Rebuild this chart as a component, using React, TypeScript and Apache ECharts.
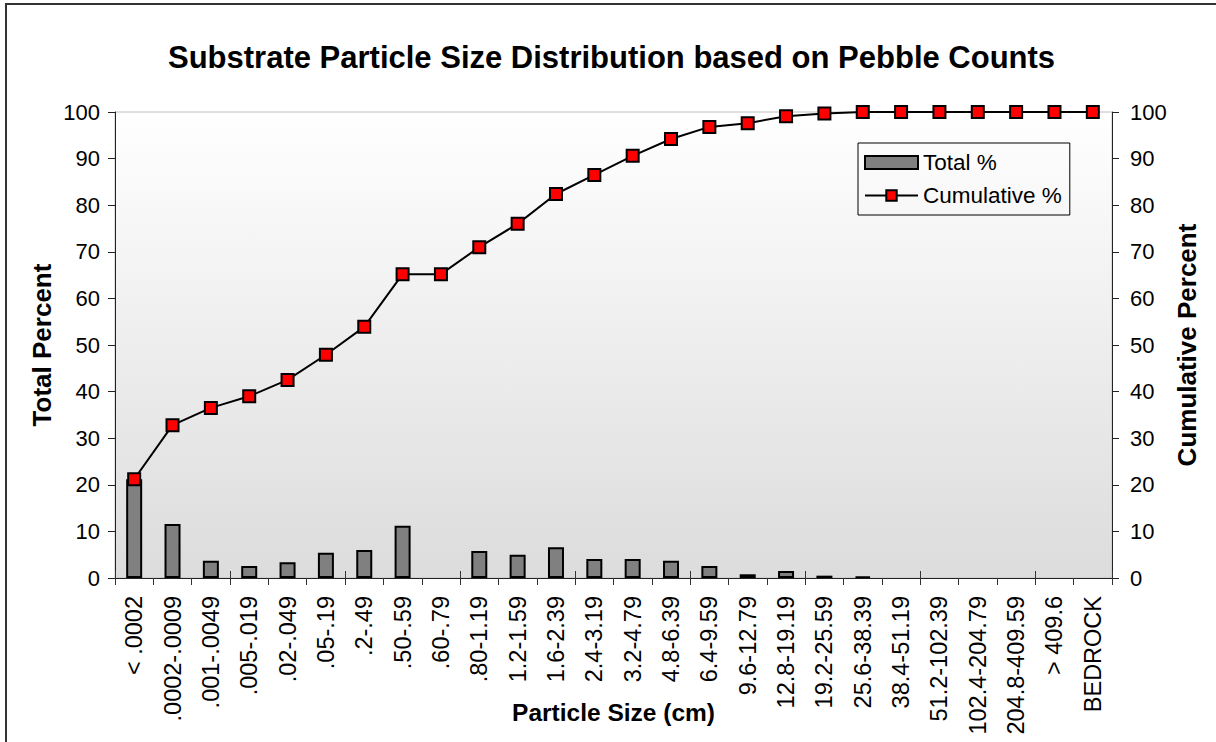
import React, { useEffect, useRef } from "react";
import * as echarts from "echarts";

const categories = [
  "< .0002", ".0002-.0009", ".001-.0049", ".005-.019", ".02-.049", ".05-.19", ".2-.49",
  ".50-.59", ".60-.79", ".80-1.19", "1.2-1.59", "1.6-2.39", "2.4-3.19", "3.2-4.79",
  "4.8-6.39", "6.4-9.59", "9.6-12.79", "12.8-19.19", "19.2-25.59", "25.6-38.39",
  "38.4-51.19", "51.2-102.39", "102.4-204.79", "204.8-409.59", "> 409.6", "BEDROCK",
];
const totalPercent = [
  21.2, 11.6, 3.7, 2.6, 3.4, 5.4, 6.0, 11.2, 0, 5.8, 5.0, 6.6, 4.1, 4.1, 3.7, 2.6,
  0.8, 1.5, 0.5, 0.3, 0, 0, 0, 0, 0, 0,
];
const cumulativePercent = [
  21.2, 32.8, 36.5, 39.0, 42.5, 47.9, 53.9, 65.2, 65.2, 71.0, 76.0, 82.4, 86.5, 90.6,
  94.2, 96.8, 97.6, 99.1, 99.7, 100, 100, 100, 100, 100, 100, 100,
];

const FONT = "Liberation Sans, Arial, sans-serif";

export default function App() {
  const ref = useRef<HTMLDivElement>(null);
  useEffect(() => {
    document.body.style.margin = "0";
    const chart = echarts.init(ref.current!, null, { renderer: "svg" });
    const axisLineStyle = { color: "#222", width: 1 };
    chart.setOption({
      animation: false,
      backgroundColor: "#ffffff",
      textStyle: { fontFamily: FONT },
      title: {
        text: "Substrate Particle Size Distribution based on Pebble Counts",
        left: 163,
        top: 37,
        textStyle: { fontFamily: FONT, fontSize: 31, fontWeight: "bold", color: "#000" },
      },
      graphic: [
        {
          type: "rect",
          shape: { x: 6, y: 4, width: 1240, height: 780 },
          style: { fill: "none", stroke: "#333", lineWidth: 2 },
          silent: true,
        },
      ],
      legend: {
        orient: "vertical",
        left: 858,
        top: 143,
        padding: [8, 8, 8, 6],
        itemGap: 10,
        itemWidth: 53,
        itemHeight: 13,
        borderColor: "#000",
        borderWidth: 1,
        backgroundColor: "transparent",
        textStyle: { fontFamily: FONT, fontSize: 22.5, color: "#000" },
        data: [
          { name: "Total %", icon: "rect", itemStyle: { color: "#808080", borderColor: "#000", borderWidth: 2 } },
          { name: "Cumulative %" },
        ],
      },
      grid: {
        left: 115,
        right: 104,
        top: 112,
        bottom: 164,
        outerBoundsMode: "none",
        containLabel: false,
        show: true,
        borderColor: "#c0c0c0",
        borderWidth: 1,
        backgroundColor: new echarts.graphic.LinearGradient(0, 0, 0, 1, [
          { offset: 0, color: "#ffffff" },
          { offset: 1, color: "#dcdcdc" },
        ]),
      },
      xAxis: [
        {
          type: "category",
          data: categories,
          boundaryGap: true,
          name: "Particle Size (cm)",
          nameLocation: "middle",
          nameGap: 122,
          nameMoveOverlap: false,
          nameTextStyle: { fontFamily: FONT, fontSize: 24.5, fontWeight: "bold", color: "#000" },
          axisLine: { lineStyle: axisLineStyle },
          axisTick: { show: true, length: 7, lineStyle: { color: "#333" } },
          axisLabel: {
            rotate: 90,
            interval: 0,
            margin: 18,
            fontFamily: FONT,
            fontSize: 23.5,
            color: "#000",
          },
          splitLine: { show: false },
        },
        {
          type: "category",
          data: categories,
          position: "bottom",
          boundaryGap: true,
          axisLine: { show: false },
          axisTick: { show: true, inside: true, length: 7, lineStyle: { color: "#333" } },
          axisLabel: { show: false },
          splitLine: { show: false },
        },
      ],
      yAxis: [
        {
          type: "value",
          min: 0,
          max: 100,
          interval: 10,
          name: "Total Percent",
          nameLocation: "middle",
          nameRotate: 90,
          nameGap: 60,
          nameMoveOverlap: false,
          nameTextStyle: { fontFamily: FONT, fontSize: 26, fontWeight: "bold", color: "#000" },
          axisLine: { show: true, lineStyle: axisLineStyle },
          axisTick: { show: true, length: 7, lineStyle: { color: "#222" } },
          axisLabel: { margin: 15, fontFamily: FONT, fontSize: 22, color: "#000" },
          splitLine: { show: false },
        },
        {
          type: "value",
          min: 0,
          max: 100,
          interval: 10,
          position: "right",
          name: "Cumulative Percent",
          nameLocation: "middle",
          nameRotate: 90,
          nameGap: 62,
          nameMoveOverlap: false,
          nameTextStyle: { fontFamily: FONT, fontSize: 26, fontWeight: "bold", color: "#000" },
          axisLine: { show: true, lineStyle: axisLineStyle },
          axisTick: { show: true, length: 7, lineStyle: { color: "#222" } },
          axisLabel: { margin: 18, fontFamily: FONT, fontSize: 22, color: "#000" },
          splitLine: { show: false },
        },
      ],
      series: [
        {
          name: "Total %",
          type: "bar",
          yAxisIndex: 0,
          barWidth: 16,
          data: totalPercent.map((v) => (v === 0 ? null : v)),
          itemStyle: { color: "#808080", borderColor: "#000", borderWidth: 2 },
        },
        {
          name: "Cumulative %",
          type: "line",
          yAxisIndex: 1,
          data: cumulativePercent,
          symbol: "rect",
          symbolSize: 12,
          lineStyle: { color: "#000", width: 2 },
          itemStyle: { color: "#ff0000", borderColor: "#000", borderWidth: 2 },
          z: 5,
        },
      ],
    });
    return () => chart.dispose();
  }, []);
  return <div ref={ref} style={{ width: 1216, height: 742 }} />;
}
